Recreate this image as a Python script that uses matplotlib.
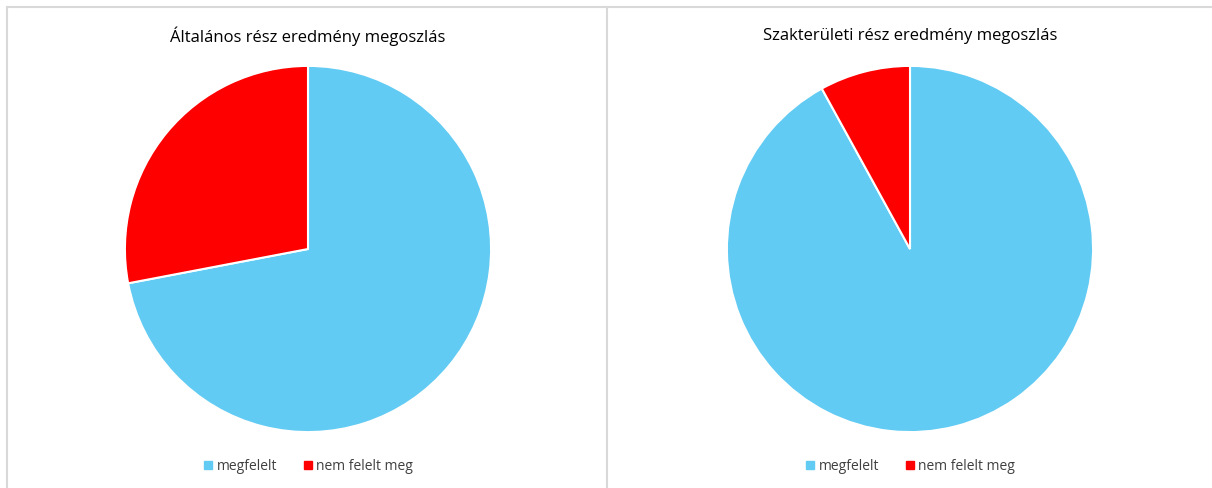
import matplotlib.pyplot as plt
from matplotlib.lines import Line2D

plt.rcParams['font.family'] = ['Open Sans', 'DejaVu Sans']

labels = ["megfelelt", "nem felelt meg"]
titles = ["Általános rész eredmény megoszlás", "Szakterületi rész eredmény megoszlás"]
general = [72, 28]
special = [92, 8]
colors = ["#61CBF3", "#FF0000"]

W, H = 1212, 488
fig = plt.figure(figsize=(W / 100, H / 100), dpi=100)

# panel borders
border = "#D9D9D9"
fig.add_artist(Line2D([7 / W, 7 / W], [0, 1 - 7 / H], color=border, lw=1.5))
fig.add_artist(Line2D([7 / W, 1], [1 - 7 / H, 1 - 7 / H], color=border, lw=1.5))
fig.add_artist(Line2D([607 / W, 607 / W], [0, 1 - 7 / H], color=border, lw=1.5))

r = 184
for cx, title, vals in [(308, titles[0], general), (910, titles[1], special)]:
    ax = fig.add_axes([(cx - r) / W, (H - 249 - r) / H, 2 * r / W, 2 * r / H])
    wedges, _ = ax.pie(vals, colors=colors, startangle=90, counterclock=False,
                       wedgeprops=dict(edgecolor="white", linewidth=1.5))
    ax.set_xlim(-1.005, 1.005)
    ax.set_ylim(-1.005, 1.005)
    ax.set_aspect("equal")
    fig.text(cx / W, 1 - 36 / H, title, ha="center", va="center",
             fontsize=12, color="#000000")
    handles = [Line2D([], [], marker="s", linestyle="", markersize=6,
                      markerfacecolor=c, markeredgecolor=c) for c in colors]
    fig.legend(handles, labels, loc="center", bbox_to_anchor=(cx / W, 1 - 466 / H),
               ncol=2, frameon=False, fontsize=10, handletextpad=0.2,
               columnspacing=1.8, handlelength=0.8, labelcolor="#404040")

fig.savefig("out.png", dpi=100, facecolor="white")
